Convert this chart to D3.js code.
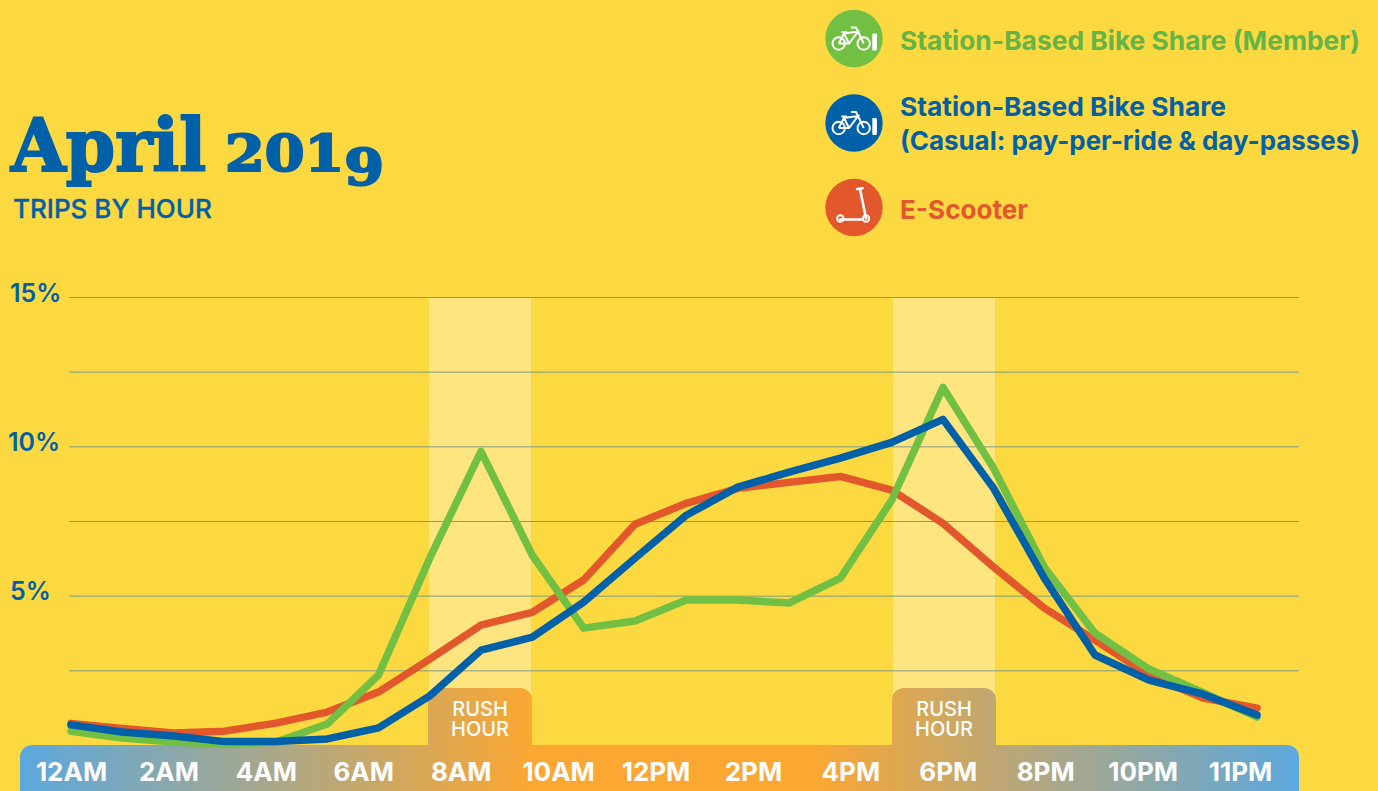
<!DOCTYPE html>
<html>
<head>
<meta charset="utf-8">
<title>April 2019 trips by hour</title>
<script src="https://cdn.jsdelivr.net/npm/d3@7"></script>
<style>
    html, body { margin: 0; padding: 0; background: #fdd941; overflow: hidden; }
    svg { display: block; }
    text { font-family: Inter, "Noto Sans", sans-serif; }
</style>
</head>
<body>
<svg id="chart" width="1378" height="791"></svg>
<script>
// share of trips (%) per hour, 12AM .. 11PM
var hours = d3.range(24);
var memberTrips = [0.48, 0.25, 0.12, 0.03, 0.12, 0.72, 2.36, 6.27, 9.85, 6.37, 3.93, 4.17, 4.87, 4.87, 4.77, 5.6, 8.21, 11.99, 9.28, 5.97, 3.76, 2.56, 1.78, 0.95];
var casualTrips = [0.69, 0.45, 0.32, 0.13, 0.13, 0.22, 0.59, 1.66, 3.19, 3.63, 4.8, 6.27, 7.71, 8.65, 9.15, 9.62, 10.15, 10.92, 8.61, 5.6, 3.03, 2.19, 1.72, 1.02];
var scooterTrips = [0.74, 0.57, 0.42, 0.48, 0.75, 1.12, 1.79, 2.89, 4.03, 4.46, 5.54, 7.41, 8.11, 8.61, 8.81, 9.01, 8.55, 7.44, 5.97, 4.6, 3.53, 2.36, 1.59, 1.25];

var hourLabels = ["12AM", "2AM", "4AM", "6AM", "8AM", "10AM", "12PM", "2PM", "4PM", "6PM", "8PM", "10PM", "11PM"];
var gridValues = [2.5, 5, 7.5, 10, 12.5, 15];
var percentLabels = [5, 10, 15];
var rushHours = [8, 17];

var GREEN = "#71c044", GREEN_TEXT = "#62b546", BLUE = "#0060a8", RED = "#e2572b";

var svg = d3.select("#chart");

var x = d3.scaleLinear().domain([0, 8, 17, 20, 23]).range([71, 481, 943, 1095, 1257]);
var y = d3.scaleLinear().domain([0, 15]).range([745.5, 297.5]);
var labelX = d3.scalePoint().domain(hourLabels).range([71, 1240]);

// bar gradient, blue at the edges and orange in the middle
var grad = svg.append("defs").append("linearGradient")
    .attr("id", "barGrad")
    .attr("gradientUnits", "userSpaceOnUse")
    .attr("x1", 20).attr("x2", 1299).attr("y1", 0).attr("y2", 0);
grad.append("stop").attr("offset", 0).attr("stop-color", "#5ba8de");
grad.append("stop").attr("offset", 0.4).attr("stop-color", "#fba732");
grad.append("stop").attr("offset", 0.62).attr("stop-color", "#fba732");
grad.append("stop").attr("offset", 1).attr("stop-color", "#5ba8de");

// rush hour bands
svg.selectAll(".band").data(rushHours).enter().append("rect")
    .attr("class", "band")
    .attr("x", function(d) { return d == 8 ? 429 : 893; })
    .attr("y", y(15))
    .attr("width", 102)
    .attr("height", 400)
    .attr("fill", "#fee580");

// grid
svg.selectAll(".grid").data(gridValues).enter().append("line")
    .attr("class", "grid")
    .attr("x1", 69).attr("x2", 1299)
    .attr("y1", function(d) { return y(d); })
    .attr("y2", function(d) { return y(d); })
    .attr("stroke", "#7f9c80")
    .attr("stroke-width", 1);

svg.selectAll(".pct").data(percentLabels).enter().append("text")
    .attr("class", "pct")
    .attr("x", function(d) { return d == 10 ? 8 : 10; })
    .attr("y", function(d) { return y(d) + 4; })
    .attr("font-size", 25)
    .attr("font-weight", 600)
    .attr("fill", BLUE)
    .text(function(d) { return d + "%"; });

// hour bar and rush hour tabs
svg.append("rect")
    .attr("x", 20).attr("y", 745).attr("width", 1279).attr("height", 70).attr("rx", 12)
    .attr("fill", "url(#barGrad)");
svg.selectAll(".tab").data(rushHours).enter().append("rect")
    .attr("class", "tab")
    .attr("x", function(d) { return d == 8 ? 428 : 892; })
    .attr("y", 688).attr("width", 104).attr("height", 80).attr("rx", 12)
    .attr("fill", "url(#barGrad)");

rushHours.forEach(function(h) {
    var cx = h == 8 ? 480 : 944;
    var t = svg.append("text").attr("text-anchor", "middle")
        .attr("font-size", 20).attr("font-weight", 500).attr("fill", "#fff");
    t.append("tspan").attr("x", cx).attr("y", 716).text("RUSH");
    t.append("tspan").attr("x", cx).attr("y", 736).text("HOUR");
});

var xAxis = d3.axisBottom(labelX).tickSize(0).tickPadding(0);
var axisG = svg.append("g").attr("transform", "translate(0,763)").call(xAxis);
axisG.select(".domain").remove();
axisG.selectAll("text")
    .attr("font-size", 26)
    .attr("font-weight", 700)
    .attr("fill", "#fff")
    .attr("font-family", "Inter");

// series
var line = d3.line()
    .x(function(d, i) { return x(hours[i]); })
    .y(function(d) { return y(d); });

[[scooterTrips, RED], [memberTrips, GREEN], [casualTrips, BLUE]].forEach(function(s) {
    svg.append("path")
        .attr("d", line(s[0]))
        .attr("fill", "none")
        .attr("stroke", s[1])
        .attr("stroke-width", 7.5)
        .attr("stroke-linejoin", "round")
        .attr("stroke-linecap", "round");
});

// title, the numerals are set smaller and the 9 dropped to look like old style figures
svg.append("text")
    .attr("x", 11).attr("y", 171)
    .attr("fill", BLUE).attr("stroke", BLUE).attr("stroke-width", 2.2)
    .attr("font-weight", 700)
    .attr("font-size", 72)
    .attr("textLength", 195).attr("lengthAdjust", "spacingAndGlyphs")
    .style("font-family", "'DejaVu Serif', serif")
    .text("April");
var year = svg.append("text")
    .attr("x", 225).attr("y", 171)
    .attr("fill", BLUE).attr("stroke", BLUE).attr("stroke-width", 2.2)
    .attr("font-weight", 700)
    .attr("font-size", 50)
    .attr("textLength", 159).attr("lengthAdjust", "spacingAndGlyphs")
    .style("font-family", "'DejaVu Serif', serif");
year.append("tspan").text("201");
year.append("tspan").attr("dy", 14).text("9");

svg.append("text")
    .attr("x", 13).attr("y", 218)
    .attr("font-size", 26).attr("font-weight", 500)
    .attr("stroke", BLUE).attr("stroke-width", 0.3)
    .attr("fill", BLUE)
    .text("TRIPS BY HOUR");

// legend
function bikeIcon(g) {
    g.selectAll(".wheel").data([-15.3, 9.7]).enter().append("circle")
        .attr("cx", function(d) { return d; }).attr("cy", 5).attr("r", 6.2)
        .attr("fill", "none").attr("stroke", "#fff").attr("stroke-width", 2);
    g.append("path")
        .attr("d", "M-15.3,5 L-10,-5 L4,-7 L-5,5 L-15.3,5 M-10,-5 L-5,5 M-12.5,-6.5 L-7,-6.5 M-3,-11 L2,-11 L4,-7 L9.7,5")
        .attr("fill", "none").attr("stroke", "#fff").attr("stroke-width", 2);
    g.append("rect").attr("x", 18.3).attr("y", -5).attr("width", 4.6).attr("height", 17).attr("rx", 1).attr("fill", "#fff");
}

function scooterIcon(g) {
    g.selectAll(".wheel").data([-13.7, 12]).enter().append("circle")
        .attr("cx", function(d) { return d; }).attr("cy", 11).attr("r", 3.2)
        .attr("fill", "none").attr("stroke", "#fff").attr("stroke-width", 2);
    g.append("path")
        .attr("d", "M-13.7,12 L7,12 M12,11 L6,-18.5 M3,-18.5 L8.5,-19.3")
        .attr("fill", "none").attr("stroke", "#fff").attr("stroke-width", 2.6).attr("stroke-linecap", "round");
}

var legendNames = [["Station-Based Bike Share (Member)"], ["Station-Based Bike Share", "(Casual: pay-per-ride & day-passes)"], ["E-Scooter"]];
var legendWidths = [[460], [326, 460], [128]];
var legendColors = [GREEN, BLUE, RED];
var legendTextColors = [GREEN_TEXT, BLUE, RED];
var legendY = [38.5, 123, 207.5];
var legendBase = [50, 116, 219];

legendNames.forEach(function(lines, i) {
    var g = svg.append("g").attr("transform", "translate(854," + legendY[i] + ")");
    g.append("circle").attr("r", 28.7).attr("fill", legendColors[i]);
    if (i < 2) bikeIcon(g); else scooterIcon(g);
    lines.forEach(function(t, j) {
        svg.append("text")
            .attr("x", 900).attr("y", legendBase[i] + j * 34)
            .attr("font-size", 26).attr("font-weight", 700)
            .attr("textLength", legendWidths[i][j]).attr("lengthAdjust", "spacingAndGlyphs")
            .attr("fill", legendTextColors[i])
            .text(t);
    });
});
</script>
</body>
</html>
